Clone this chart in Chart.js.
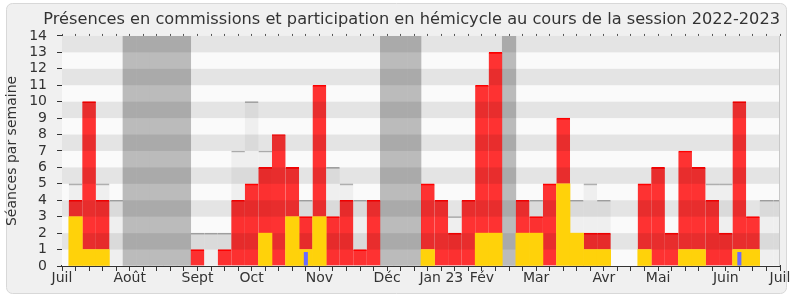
<!DOCTYPE html>
<html>
<head>
<meta charset="utf-8">
<script src="https://cdn.jsdelivr.net/npm/chart.js@4"></script>
<style>
  html, body { margin: 0; padding: 0; background: #fff; }
  #wrap { width: 790px; height: 300px; }
</style>
</head>
<body>
<div id="wrap"><canvas id="myChart" width="790" height="300"></canvas></div>
<script>
// semaines numérotées de 0 (début juillet 2022) à 53 (début juillet 2023)
const monthLabels = ['Juil', 'Août', 'Sept', 'Oct', 'Nov', 'Déc', 'Jan 23', 'Fév', 'Mar', 'Avr', 'Mai', 'Juin', 'Juil'];
const monthWeeks = [0, 5, 10, 14, 19, 24, 28, 31, 35, 40, 44, 49, 53];

const hemicycleWeeks = [1, 2, 3, 15, 17, 18, 19, 27, 31, 32, 34, 35, 37, 38, 39, 40, 43, 46, 47, 50, 51];
const hemicycleValues = [3, 1, 1, 2, 3, 1, 3, 1, 2, 2, 2, 2, 5, 2, 1, 1, 1, 1, 1, 1, 1];

const commissionWeeks = [1, 2, 3, 10, 12, 13, 14, 15, 16, 17, 18, 19, 20, 21, 22, 23, 27, 28, 29, 30, 31, 32, 34, 35, 36, 37, 39, 40, 43, 44, 45, 46, 47, 48, 49, 50, 51];
const commissionValues = [1, 9, 3, 1, 1, 4, 5, 4, 8, 3, 2, 8, 3, 4, 1, 4, 4, 4, 2, 4, 9, 11, 2, 1, 5, 4, 1, 1, 4, 6, 2, 6, 5, 4, 2, 9, 2];

const presenceWeeks = [1, 3, 4, 10, 11, 12, 13, 14, 15, 18, 20, 21, 22, 29, 35, 38, 39, 40, 48, 49, 52, 53];
const presenceValues = [5, 5, 4, 2, 2, 2, 7, 10, 7, 4, 6, 5, 4, 3, 4, 4, 5, 4, 5, 5, 4, 4];

const questionWeeks = [18, 50];
const questionValues = [0.85, 0.85];

const vacanceWeeks = [5, 6, 7, 8, 9, 24, 25, 26, 33];
const vacanceValues = [14, 14, 14, 14, 14, 14, 14, 14, 14];

function pts(weeks, values) {
  return weeks.map((w, i) => ({x: w, y: values[i]}));
}

const FONT = 'DejaVu Sans';

const decor = {
  id: 'decor',
  beforeDraw(chart) {
    const ctx = chart.ctx;
    ctx.save();
    ctx.fillStyle = '#ffffff';
    ctx.fillRect(0, 0, chart.width, chart.height);
    ctx.beginPath();
    ctx.roundRect(6.5, 3.5, 780, 290, 6);
    ctx.fillStyle = '#f0f0f0';
    ctx.fill();
    ctx.strokeStyle = '#d8d8d8';
    ctx.lineWidth = 1;
    ctx.stroke();
    ctx.restore();
  },
  beforeDatasetsDraw(chart) {
    const {ctx, chartArea: a} = chart;
    ctx.save();
    ctx.fillStyle = '#fafafa';
    ctx.fillRect(a.left, a.top, a.width, a.height);
    ctx.restore();
  },
  afterDatasetDraw(chart, args) {
    // bandes grises par-dessus les barres rouges
    if (args.index !== 2) return;
    const {ctx, chartArea: a} = chart;
    const y = chart.scales.y;
    ctx.save();
    ctx.fillStyle = 'rgba(0,0,0,0.085)';
    for (let v = 1; v < 14; v += 2) {
      const top = y.getPixelForValue(v + 1);
      const bottom = y.getPixelForValue(v);
      ctx.fillRect(a.left, top, a.width, bottom - top);
    }
    ctx.restore();
  },
  afterDatasetsDraw(chart) {
    const {ctx, chartArea: a} = chart;
    ctx.save();
    ctx.strokeStyle = '#c8c8c8';
    ctx.lineWidth = 1;
    ctx.beginPath();
    ctx.moveTo(Math.round(a.right) - 0.5, a.top);
    ctx.lineTo(Math.round(a.right) - 0.5, a.bottom);
    ctx.stroke();
    ctx.restore();
  }
};

const barBase = {
  type: 'bar',
  grouped: false,
  barPercentage: 1,
  categoryPercentage: 1
};

const data = {
  datasets: [
    Object.assign({}, barBase, {
      label: 'Vacances',
      data: pts(vacanceWeeks, vacanceValues),
      backgroundColor: '#bbbbbb',
      borderWidth: 0,
      stack: 'v',
      order: 5
    }),
    Object.assign({}, barBase, {
      label: 'Présences',
      data: pts(presenceWeeks, presenceValues),
      backgroundColor: 'rgba(215,215,215,0.3)',
      borderColor: '#a8a8a8',
      borderWidth: {top: 1, right: 0, bottom: 0, left: 0},
      stack: 'l',
      order: 4
    }),
    Object.assign({}, barBase, {
      label: 'Commissions',
      data: pts(commissionWeeks, commissionValues),
      backgroundColor: 'rgba(255,0,0,0.8)',
      borderColor: '#ff0000',
      borderWidth: {top: 1, right: 0, bottom: 0, left: 0},
      stack: 'p',
      order: 3
    }),
    Object.assign({}, barBase, {
      label: 'Hémicycle',
      data: pts(hemicycleWeeks, hemicycleValues),
      backgroundColor: '#ffd20a',
      borderWidth: 0,
      stack: 'p',
      order: 2
    }),
    Object.assign({}, barBase, {
      label: 'Questions',
      data: pts(questionWeeks, questionValues),
      backgroundColor: '#6a6aff',
      borderWidth: 0,
      barPercentage: 0.3,
      stack: 'q',
      order: 1
    })
  ]
};

const config = {
  type: 'bar',
  data: data,
  plugins: [decor],
  options: {
    responsive: false,
    animation: false,
    layout: {padding: {left: 0, right: 10, top: 0, bottom: 0}},
    plugins: {
      legend: {display: false},
      tooltip: {enabled: false},
      title: {
        display: true,
        text: 'Présences en commissions et participation en hémicycle au cours de la session 2022-2023',
        align: 'end',
        color: '#333',
        font: {family: FONT, size: 16.2, weight: 'normal'},
        padding: {top: 10.5, bottom: 2}
      }
    },
    scales: {
      x: {
        type: 'linear',
        position: 'bottom',
        offset: false,
        min: 0,
        max: 53,
        grid: {drawOnChartArea: false, drawTicks: true, tickLength: 5, tickColor: '#333', offset: false},
        border: {display: true, color: '#333', width: 2},
        ticks: {
          stepSize: 1,
          autoSkip: false,
          maxRotation: 0,
          padding: -1,
          color: '#333',
          font: {family: FONT, size: 14},
          callback: v => {
            const i = monthWeeks.indexOf(v);
            return i >= 0 ? monthLabels[i] : '';
          }
        },
        afterFit: s => { s.height = 34; s.paddingLeft = 0; s.paddingRight = 0; }
      },
      xTop: {
        type: 'linear',
        position: 'top',
        offset: false,
        min: 0,
        max: 53,
        grid: {drawOnChartArea: false, drawTicks: true, tickLength: 2, tickColor: '#555', offset: false},
        border: {display: false},
        ticks: {stepSize: 1, autoSkip: false, display: false},
        afterFit: s => { s.height = 4; s.paddingLeft = 0; s.paddingRight = 0; }
      },
      y: {
        position: 'left',
        min: 0,
        max: 14,
        stacked: true,
        grid: {drawOnChartArea: false, drawTicks: true, tickLength: 5, tickColor: '#333'},
        border: {display: true, color: '#333', width: 1},
        ticks: {stepSize: 1, autoSkip: false, padding: 10, color: '#333', font: {family: FONT, size: 14}},
        title: {
          display: true,
          text: 'Séances par semaine',
          color: '#333',
          font: {family: FONT, size: 14},
          padding: {top: 4, bottom: 0}
        },
        afterFit: s => { s.width = 62; }
      }
    }
  }
};

let myChart = new Chart(document.getElementById('myChart'), config);
</script>
</body>
</html>
